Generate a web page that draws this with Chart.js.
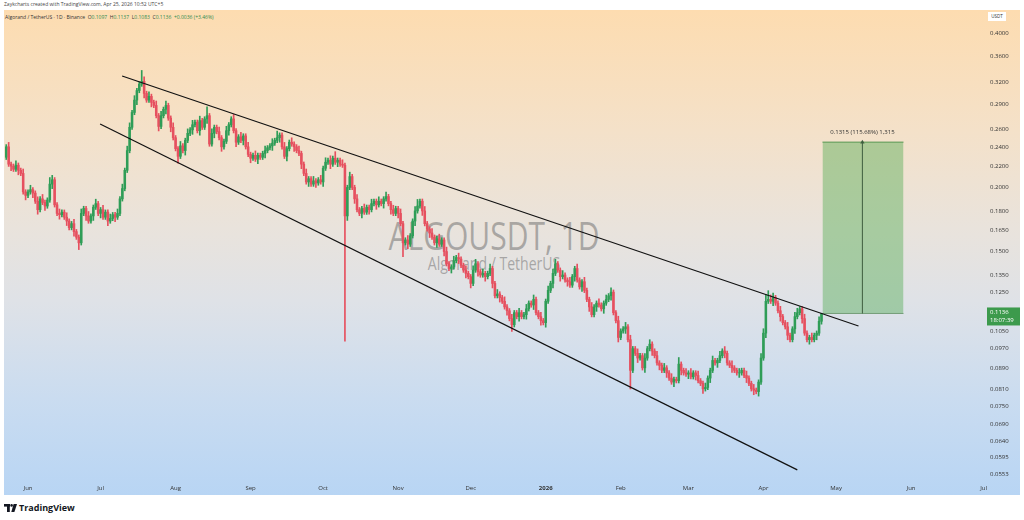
<!DOCTYPE html>
<html>
<head>
<meta charset="utf-8">
<script src="https://cdn.jsdelivr.net/npm/chart.js@4.4.1/dist/chart.umd.min.js"></script>
<style>
  html, body { margin: 0; padding: 0; background: #fff; width: 1024px; height: 520px; overflow: hidden; }
  body { font-family: "Open Sans", Roboto, sans-serif; }
  #wrap { position: relative; width: 1024px; height: 520px; }
  #bg {
    position: absolute; left: 4px; top: 10px; width: 1016px; height: 485px;
    background: linear-gradient(to bottom, #fddcb0 0%, #f4e1c9 25%, #e9e3dc 45%, #dfe2e7 60%, #cadcf0 80%, #b8d5f4 100%);
  }
  .mark { position: absolute; left: 0; width: 988px; text-align: center; color: rgba(105,105,105,0.5); transform-origin: 494px 0; }
  #mark1 { top: 214px; font-size: 38px; line-height: 42px; transform: scaleX(0.79); }
  #mark2 { top: 253px; font-size: 18px; line-height: 20px; transform: scaleX(0.78); }
  #credit { position: absolute; left: 4px; top: 1px; font-size: 5px; line-height: 7px; color: #444; }
  #legend { position: absolute; left: 5px; top: 14px; font-size: 5px; line-height: 7px; color: #333; }
  #legend b { font-weight: normal; color: #2e8b4e; }
  #usdt { position: absolute; left: 988px; top: 12px; width: 18px; height: 9px; background: #fff;
          font-size: 4.5px; line-height: 9px; text-align: center; color: #333; }
  #logo { position: absolute; left: 4px; top: 502px; font-size: 9px; line-height: 11px; font-weight: bold; color: #131722; }
  #logo svg { vertical-align: -1px; margin-right: 2px; }
  canvas { position: absolute; left: 0; top: 0; }
</style>
</head>
<body>
<div id="wrap">
  <div id="bg"></div>
  <div id="mark1" class="mark">ALGOUSDT, 1D</div>
  <div id="mark2" class="mark">Algorand / TetherUS</div>
  <div id="credit">Zaykcharts created with TradingView.com, Apr 25, 2026 10:52 UTC+5</div>
  <div id="legend">Algorand / TetherUS · 1D · Binance &nbsp;O<b>0.1097</b> &nbsp;H<b>0.1137</b> &nbsp;L<b>0.1083</b> &nbsp;C<b>0.1136</b> &nbsp;<b>+0.0036 (+3.46%)</b></div>
  <div id="usdt">USDT</div>
  <div id="logo"><svg width="13" height="8" viewBox="0 0 13 8"><rect x="0" y="0" width="6" height="2.6" fill="#131722"/><rect x="3" y="0" width="2.8" height="8" fill="#131722"/><circle cx="7.6" cy="1.4" r="1.3" fill="#131722"/><polygon points="9.6,0 13,0 10.4,8 7.3,8" fill="#131722"/></svg>TradingView</div>
  <canvas id="chart" width="1024" height="520"></canvas>
</div>
<script>
// days counted from Jun 1, 2025; first candle is May 23, 2025
const startDay = -9;
const firstOpen = 0.229;

// daily closes, May 23 2025 .. Apr 25 2026
const closes = [
  0.240,0.222,0.220,0.217,0.221,0.216,0.213,0.196,0.193,
  // Jun
  0.196,0.198,0.195,0.188,0.181,0.190,0.187,0.184,0.189,0.203,
  0.207,0.185,0.178,0.177,0.179,0.175,0.172,0.167,0.170,0.164,
  0.160,0.156,0.178,0.182,0.176,0.172,0.176,0.183,0.186,0.178,
  // Jul
  0.181,0.175,0.179,0.172,0.174,0.177,0.175,0.178,0.190,0.199,
  0.216,0.236,0.262,0.280,0.296,0.309,0.318,0.322,0.305,0.296,
  0.301,0.293,0.289,0.276,0.263,0.276,0.284,0.289,0.273,0.262,
  0.250,
  // Aug
  0.238,0.230,0.241,0.236,0.247,0.255,0.259,0.265,0.268,0.258,
  0.270,0.262,0.272,0.276,0.243,0.255,0.262,0.257,0.250,0.240,
  0.246,0.258,0.265,0.272,0.258,0.245,0.251,0.247,0.252,0.240,
  0.232,
  // Sep
  0.228,0.231,0.227,0.231,0.229,0.233,0.236,0.239,0.241,0.244,
  0.247,0.250,0.253,0.240,0.230,0.238,0.245,0.243,0.240,0.236,
  0.233,0.222,0.213,0.205,0.208,0.203,0.206,0.204,0.207,0.205,
  // Oct
  0.218,0.224,0.226,0.222,0.228,0.224,0.226,0.222,0.221,0.176,
  0.200,0.210,0.200,0.190,0.181,0.178,0.182,0.179,0.183,0.181,
  0.186,0.188,0.185,0.188,0.186,0.190,0.192,0.186,0.181,0.178,
  0.182,
  // Nov
  0.178,0.170,0.156,0.158,0.155,0.161,0.172,0.180,0.184,0.188,
  0.180,0.170,0.166,0.163,0.160,0.156,0.159,0.155,0.158,0.150,
  0.142,0.139,0.140,0.144,0.146,0.145,0.141,0.138,0.136,0.134,
  // Dec
  0.130,0.138,0.142,0.137,0.135,0.136,0.134,0.136,0.139,0.130,
  0.123,0.124,0.122,0.120,0.117,0.115,0.111,0.108,0.114,0.112,
  0.114,0.112,0.113,0.116,0.119,0.118,0.121,0.114,0.112,0.110,
  0.109,
  // Jan 2026
  0.120,0.126,0.130,0.136,0.142,0.138,0.134,0.135,0.132,0.131,
  0.129,0.134,0.139,0.132,0.128,0.131,0.126,0.121,0.117,0.113,
  0.117,0.119,0.118,0.116,0.119,0.121,0.123,0.125,0.114,0.110,
  0.102,
  // Feb
  0.105,0.106,0.107,0.101,0.088,0.097,0.095,0.093,0.094,0.089,
  0.093,0.097,0.099,0.096,0.094,0.091,0.090,0.088,0.089,0.087,
  0.085,0.0835,0.0845,0.084,0.0905,0.088,0.087,0.0865,
  // Mar
  0.087,0.0855,0.087,0.086,0.084,0.083,0.081,0.0815,0.085,0.088,
  0.092,0.091,0.092,0.094,0.096,0.095,0.091,0.090,0.089,0.088,
  0.087,0.087,0.088,0.086,0.085,0.083,0.081,0.0805,0.080,0.0835,
  0.093,
  // Apr
  0.104,0.120,0.121,0.120,0.122,0.119,0.115,0.112,0.109,0.107,
  0.103,0.101,0.106,0.112,0.114,0.116,0.111,0.104,0.101,0.102,
  0.101,0.103,0.104,0.1097,0.1136
];

// upper wick above the body, in percent
const wickUp = [
  1,2,1,1,2,1,1,2,1,
  1,2,1,1,2,1,2,1,1,3, 2,1,1,2,1,1,2,1,1,2, 1,1,2,1,1,2,1,1,2,1,
  1,2,1,1,2,1,1,2,1,2, 1,2,2,1,2,1,1,5,2,1, 2,1,1,2,1,2,1,2,1,1, 2,
  1,1,2,1,1,2,1,2,1,1, 2,1,1,4,1,2,1,1,2,1, 1,2,1,1,2,1,1,2,1,1, 2,
  1,1,2,1,1,1,2,1,1,2, 1,3,1,1,2,1,1,2,1,1, 2,1,1,2,1,1,2,1,1,2,
  1,2,1,2,1,3,1,1,2,1, 1,2,1,1,2,1,1,2,1,1, 2,1,1,2,1,1,2,1,1,2, 1,
  1,2,1,1,2,1,1,2,3,1, 1,2,1,1,2,1,1,2,1,1, 2,1,1,2,1,2,1,1,2,1,
  1,2,2,1,1,2,1,1,2,1, 1,2,1,1,2,1,1,2,1,1, 2,1,1,2,1,1,2,1,1,2, 1,
  1,2,1,2,2,1,1,2,1,1, 2,1,1,2,1,1,2,1,1,2, 1,1,2,1,1,2,1,2,1,1, 2,
  1,1,2,1,2,1,1,2,1,1, 2,1,2,1,1,2,1,1,2,1, 1,2,1,1,3,1,1,2,
  1,2,1,1,2,1,1,2,1,1, 2,1,1,2,1,2,1,1,2,1, 1,2,1,1,2,1,1,2,1,1, 2,
  2,3,4,2,2,1,1,2,1,1, 2,1,1,2,2,1,1,2,1,1, 2,1,1,2,0.1
];

// lower wick below the body, in percent
const wickDn = [
  1,1,2,1,1,2,1,1,2,
  1,1,2,1,2,1,1,2,1,1, 2,1,1,2,1,1,2,1,1,2, 1,3,1,1,2,1,1,2,1,1,
  2,1,1,2,1,1,2,1,1,1, 1,1,1,1,1,2,1,1,2,1, 1,2,1,1,2,1,1,2,1,2, 1,
  1,3,1,1,2,1,1,2,1,1, 2,1,1,2,1,1,2,1,1,2, 1,1,2,1,1,2,1,1,2,1, 1,
  2,1,1,2,1,1,2,1,1,2, 1,1,2,1,1,2,1,1,2,1, 1,2,1,1,2,1,1,2,1,1,
  2,1,1,2,1,1,2,1,1,43, 2,1,1,2,1,1,2,1,1,2, 1,1,2,1,1,2,1,1,2,1, 1,
  2,1,6,1,2,1,1,2,1,1, 2,1,1,2,1,1,2,1,1,2, 1,1,2,1,1,2,1,1,2,1,
  2,1,1,2,1,1,2,1,1,2, 1,1,2,1,1,2,1,3,1,1, 2,1,1,2,1,1,2,1,1,2, 1,
  2,1,1,2,1,1,2,1,1,2, 1,1,2,1,1,2,1,1,2,1, 1,2,1,1,2,1,1,2,1,1, 2,
  1,1,2,1,8,1,1,2,1,1, 2,1,1,2,1,1,2,1,1,2, 1,1,2,1,1,2,1,1,
  2,1,1,2,1,1,2,1,1,2, 1,1,2,1,1,2,1,1,2,1, 1,2,1,1,2,1,1,2,1,2, 1,
  1,2,1,1,2,1,1,2,1,1, 2,1,1,2,1,1,2,1,1,2, 1,1,2,1,1.3
];

const monthDays = [0, 30, 61, 92, 122, 153, 183, 214, 245, 273, 304, 334, 365, 395];
const monthLabels = ['Jun', 'Jul', 'Aug', 'Sep', 'Oct', 'Nov', 'Dec', '2026', 'Feb', 'Mar', 'Apr', 'May', 'Jun', 'Jul'];
const priceTicks = [0.4, 0.36, 0.32, 0.29, 0.26, 0.24, 0.22, 0.2, 0.18, 0.165, 0.15, 0.135, 0.125, 0.115,
                    0.105, 0.097, 0.089, 0.081, 0.075, 0.069, 0.064, 0.0595, 0.0553];

// drawn channel (day, price)
const upperLineDays = [38.9, 343.3];
const upperLinePrices = [0.3298, 0.1074];
const lowerLineDays = [29.8, 318];
const lowerLinePrices = [0.2659, 0.0563];

// long position tool
const entryPrice = 0.1136;
const targetPrice = 0.2451;
const positionDays = [328.4, 361.9];
const arrowDay = 344.9;
const positionLabel = '0.1315 (115.68%) 1,315';
const lastPrice = 0.1136;
const countdown = '18:07:39';

const upColor = '#2f9d57';
const downColor = '#e6505f';
const font = '"Open Sans", Roboto, sans-serif';

const bodies = [], wicks = [], candleColors = [];
let prevClose = firstOpen;
closes.forEach((c, i) => {
  const o = prevClose;
  const x = startDay + i;
  const top = Math.max(o, c), bottom = Math.min(o, c);
  bodies.push({ x: x, y: [o, c] });
  wicks.push({ x: x, y: [bottom * (1 - (wickDn[i] || 0) / 100), top * (1 + (wickUp[i] || 0) / 100)] });
  candleColors.push(c >= o ? upColor : downColor);
  prevClose = c;
});

const toPoints = (xs, ys) => xs.map((x, i) => ({ x: x, y: ys[i] }));

// labels and the price tag on the right axis
const overlay = {
  id: 'overlay',
  afterDraw(chart) {
    const { ctx, chartArea, scales } = chart;
    const x = scales.x, y = scales.y;
    ctx.save();
    ctx.fillStyle = '#333';
    ctx.font = '6px ' + font;
    ctx.textAlign = 'center';
    ctx.textBaseline = 'bottom';
    ctx.fillText(positionLabel, x.getPixelForValue(arrowDay), y.getPixelForValue(targetPrice) - 7);

    const py = y.getPixelForValue(lastPrice);
    ctx.fillStyle = '#3c9a4c';
    ctx.fillRect(chartArea.right + 1, py - 6, 33, 18);
    ctx.fillStyle = '#fff';
    ctx.textAlign = 'left';
    ctx.textBaseline = 'middle';
    ctx.fillText(lastPrice.toFixed(4), chartArea.right + 4, py - 1);
    ctx.fillText(countdown, chartArea.right + 4, py + 7);
    ctx.restore();
  }
};

new Chart(document.getElementById('chart'), {
  type: 'bar',
  data: {
    datasets: [
      {
        type: 'line',
        data: toPoints(positionDays, [targetPrice, targetPrice]),
        borderColor: 'rgba(60,140,60,0.85)',
        borderWidth: 1,
        backgroundColor: 'rgba(76,170,76,0.42)',
        fill: { value: entryPrice },
        pointRadius: 0,
        order: 6
      },
      {
        type: 'line',
        data: toPoints(positionDays, [entryPrice, entryPrice]),
        borderColor: 'rgba(70,120,70,0.6)',
        borderWidth: 1,
        pointRadius: 0,
        order: 5
      },
      {
        data: wicks,
        backgroundColor: candleColors,
        barThickness: 1,
        grouped: false,
        order: 4
      },
      {
        data: bodies,
        backgroundColor: candleColors,
        barThickness: 1.9,
        grouped: false,
        order: 3
      },
      {
        type: 'line',
        data: toPoints(upperLineDays, upperLinePrices),
        borderColor: '#111',
        borderWidth: 1.2,
        pointRadius: 0,
        order: 1
      },
      {
        type: 'line',
        data: toPoints(lowerLineDays, lowerLinePrices),
        borderColor: '#111',
        borderWidth: 1.2,
        pointRadius: 0,
        order: 1
      },
      {
        type: 'line',
        data: toPoints([arrowDay, arrowDay], [entryPrice, targetPrice]),
        borderColor: '#3e5e3e',
        borderWidth: 1,
        pointRadius: [0, 2.5],
        pointStyle: 'triangle',
        pointBackgroundColor: '#3e5e3e',
        pointBorderWidth: 0,
        order: 0
      }
    ]
  },
  options: {
    responsive: false,
    devicePixelRatio: 1,
    animation: false,
    events: [],
    layout: { padding: { left: 4, right: 4, top: 10, bottom: 25 } },
    plugins: {
      legend: { display: false },
      tooltip: { enabled: false }
    },
    scales: {
      x: {
        type: 'linear',
        min: -9.93,
        max: 396,
        bounds: 'data',
        offset: false,
        grid: { display: false, drawTicks: false },
        border: { display: false },
        afterBuildTicks: scale => { scale.ticks = monthDays.map(v => ({ value: v })); },
        afterFit: scale => { scale.height = 15; },
        ticks: {
          autoSkip: false,
          maxRotation: 0,
          padding: 5,
          color: '#333',
          font: ctx => ({ family: font, size: 6, weight: ctx.tick && ctx.tick.value === 214 ? 'bold' : 'normal' }),
          callback: (v, i) => monthLabels[i]
        }
      },
      y: {
        type: 'logarithmic',
        position: 'right',
        min: 0.0538,
        max: 0.4435,
        bounds: 'data',
        grid: { display: false, drawTicks: false },
        border: { display: false },
        afterBuildTicks: scale => { scale.ticks = priceTicks.map(v => ({ value: v })); },
        afterFit: scale => { scale.width = 34; },
        ticks: {
          padding: 4,
          color: '#333',
          font: { family: font, size: 6 },
          callback: v => Number(v).toFixed(4)
        }
      }
    }
  },
  plugins: [overlay]
});
</script>
</body>
</html>
